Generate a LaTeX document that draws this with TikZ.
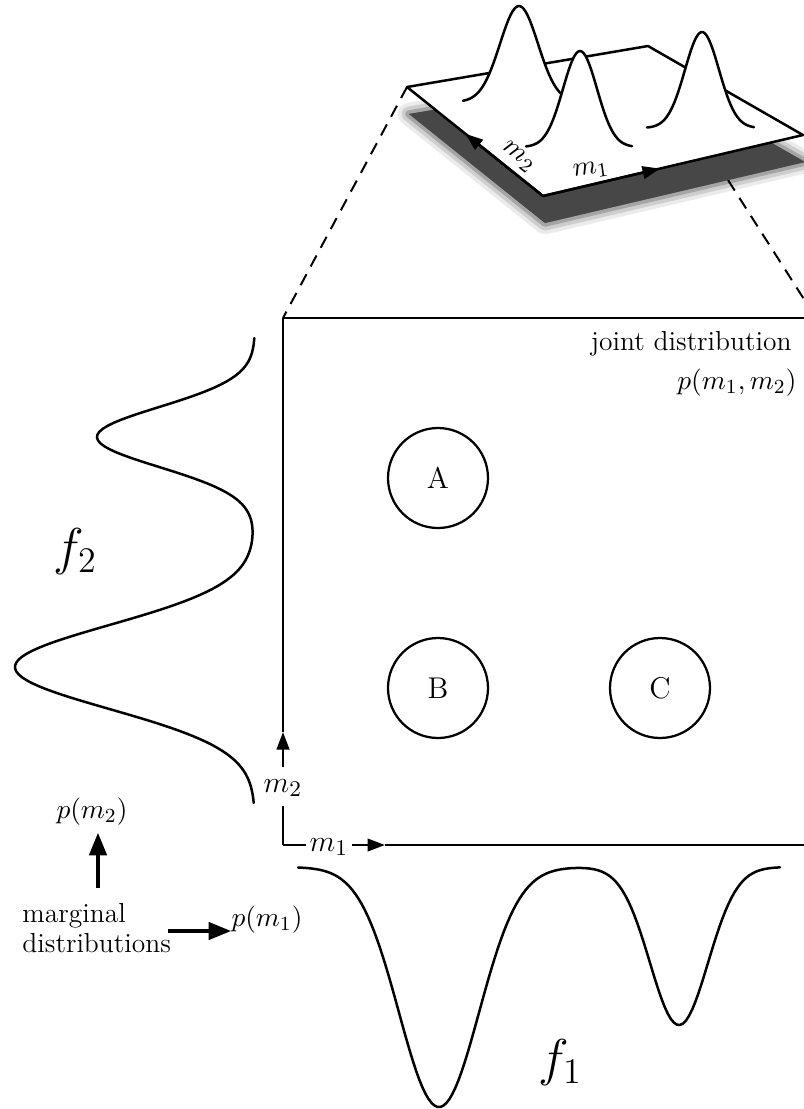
\documentclass[tikz,border=0pt]{standalone}
\usetikzlibrary{arrows.meta,calc}
\begin{document}
\begin{tikzpicture}[x=0.4pt,y=-0.4pt,
  every node/.style={font=\fontsize{11}{12}\selectfont, inner sep=0pt},
  axlabel/.style={font=\fontsize{12.5}{14}\selectfont},
  frame/.style={line width=1pt},
  curve/.style={line width=1pt, line join=round, line cap=round},
  axtip/.style={-{Triangle[length=7pt,width=5pt]}},
  bigarrow/.style={line width=1.3pt, -{Triangle[length=9pt,width=7pt]}},
  blob/.style={circle, draw, line width=0.9pt, minimum size=40pt, font=\fontsize{12}{14}\selectfont},
  guide/.style={line width=0.8pt, dash pattern=on 5pt off 3.5pt},
  biglabel/.style={font=\fontsize{22}{24}\selectfont}
]
\useasboundingbox (0,0) rectangle (804,1109);
\clip (0,0) rectangle (804,1109);

% corners of the plate seen in perspective
\coordinate (PL) at (407,87);
\coordinate (PB) at (648,46);
\coordinate (PR) at (803,135);
\coordinate (PF) at (543,196);

% corners of the joint-distribution frame
\coordinate (TL) at (283,318);
\coordinate (TR) at (816,318);
\coordinate (O)  at (283,845);
\coordinate (BR) at (816,845);

% projection lines from the plate to the frame
\coordinate (RG) at (728,180);
\draw[guide] (PL) -- (TL);
\draw[guide] (RG) -- (TR);

% soft shadow under the plate
\foreach \w/\o in {9/0.08,6/0.12,3/0.2}
  \filldraw[black, opacity=\o, line width=\w pt, line join=round]
    (409,114) -- (650,73) -- (805,162) -- (545,223) -- cycle;
\fill[black!72] (409,114) -- (650,73) -- (805,162) -- (545,223) -- cycle;

% the plate
\filldraw[fill=white, frame, line join=round] (PL) -- (PB) -- (PR) -- (PF) -- cycle;
\draw[frame, axtip] (PF) -- ($(PF)!0.57!(PL)$);
\draw[frame, axtip] (PF) -- ($(PF)!0.45!(PR)$);
\node[rotate=-38.7] (pm2lab) at (518,157) {$m_2$};
\node[rotate=8] (pm1lab) at (591,170) {$m_1$};

% three peaks standing on the plate
\fill[white] plot[domain=463:575, samples=60] (\x, {102-96*exp(-0.5*((\x-519)/19)*((\x-519)/19))}) -- cycle;
\draw[curve] plot[domain=463:575, samples=60] (\x, {102-96*exp(-0.5*((\x-519)/19)*((\x-519)/19))});
\fill[white] plot[domain=526:632, samples=60] (\x, {147-96*exp(-0.5*((\x-580)/17)*((\x-580)/17))}) -- cycle;
\draw[curve] plot[domain=526:632, samples=60] (\x, {147-96*exp(-0.5*((\x-580)/17)*((\x-580)/17))});
\fill[white] plot[domain=647:754, samples=60] (\x, {128-96*exp(-0.5*((\x-702)/17)*((\x-702)/17))}) -- cycle;
\draw[curve] plot[domain=647:754, samples=60] (\x, {128-96*exp(-0.5*((\x-702)/17)*((\x-702)/17))});

% frame of the joint distribution with its two axes
\draw[frame] (TL) -- (TR);
\node[axlabel, anchor=base] (m2ax) at (283,792) {$m_2$};
\coordinate (m2lo)  at (283,806);
\coordinate (m2hi)  at (283,767);
\coordinate (m2tip) at (283,732);
\draw[frame] (O) -- (m2lo);
\draw[frame, axtip] (m2hi) -- (m2tip);
\draw[frame] (m2tip) -- (TL);

\node[axlabel, anchor=base] (m1ax) at (329,851) {$m_1$};
\coordinate (m1l)   at (306,845);
\coordinate (m1r)   at (352,845);
\coordinate (m1tip) at (385,845);
\draw[frame] (O) -- (m1l);
\draw[frame, axtip] (m1r) -- (m1tip);
\draw[frame] (m1tip) -- (BR);

\node[anchor=base east] (joint) at (792,350) {joint distribution};
\node[anchor=base east] (pjoint) at (797,389) {$p(m_1,m_2)$};

% clusters
\node[blob] (A) at (438,478) {A};
\node[blob] (B) at (438,688) {B};
\node[blob] (C) at (660,688) {C};

% marginal along m2
\draw[curve] plot[domain=338:803, samples=160]
  ({255-158*exp(-0.5*((\x-437)/30)*((\x-437)/30))-240*exp(-0.5*((\x-667)/42)*((\x-667)/42))}, \x);
\node[biglabel] (f2) at (75,552) {$f_2$};

% marginal along m1
\draw[curve] plot[domain=298:780, samples=160]
  (\x, {867+240*exp(-0.5*((\x-439)/40)*((\x-439)/40))+158*exp(-0.5*((\x-679)/29)*((\x-679)/29))});
\node[biglabel] (f1) at (560,1063) {$f_1$};

% legend for the marginals
\node[anchor=north west, align=left] (marg) at (22,903) {marginal\\distributions};
\node[anchor=base] (pm2) at (92,818) {$p(m_2)$};
\node[anchor=base west] (pm1) at (231,926) {$p(m_1)$};
\coordinate (upfoot) at (98,888);
\coordinate (rfoot) at (168,931);
\draw[bigarrow, shorten >=3pt] (upfoot) -- (upfoot |- pm2.south);
\draw[bigarrow] (rfoot) -- (pm1.west |- rfoot);
\end{tikzpicture}
\end{document}
